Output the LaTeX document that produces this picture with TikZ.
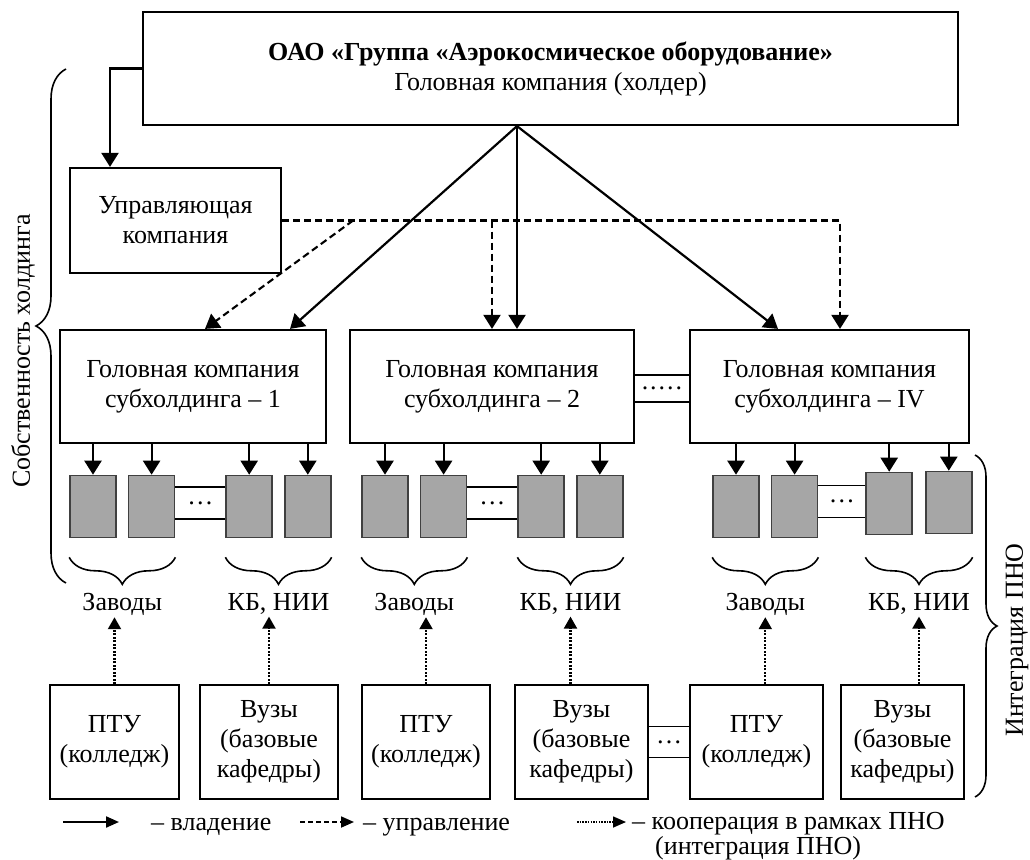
\documentclass[tikz,border=0pt]{standalone}
\usepackage{fontspec}
\setmainfont{Liberation Serif}
\usetikzlibrary{positioning,arrows.meta,calc,decorations.pathreplacing}

\newcommand{\gapdots}{.\hspace{2pt}.\hspace{2pt}.\hspace{2pt}.\hspace{2pt}.}

\begin{document}
\begin{tikzpicture}[x=1pt,y=-1pt,>={Triangle[length=14pt,width=17pt]},
  font=\fontsize{26}{30}\selectfont,
  box/.style={draw,line width=2.2pt,align=center,inner sep=0pt,minimum height=113pt},
  edu/.style={draw,line width=1.8pt,align=center,inner sep=0pt,minimum height=114pt},
  unit/.style={draw=black!75,line width=1.6pt,fill=black!35,minimum width=46pt,
    minimum height=62pt,inner sep=0pt},
  gap/.style={inner sep=0pt},
  lbl/.style={inner sep=1pt},
  own/.style={->,line width=2.2pt},
  ctrl/.style={->,line width=2.1pt,dash pattern=on 7pt off 4pt},
  coop/.style={-{Triangle[length=12pt,width=13pt]},line width=2.2pt,dash pattern=on 2pt off 1.5pt},
  brc/.style={decorate,decoration={brace,mirror,amplitude=27pt},line width=1.6pt},
  bigbrc/.style={decorate,decoration={brace,amplitude=#1},line width=1.6pt},
  legtip/.style={-{Triangle[length=13pt,width=11pt]}}]

  \useasboundingbox (0,0) rectangle (1030,859);

  % holder and management company
  \node[box,minimum width=815pt] (holder) at (550.5,68.5)
    {\textbf{ОАО «Группа «Аэрокосмическое оборудование»}\\Головная компания (холдер)};
  \node[box,minimum width=211pt,minimum height=105pt] (upr) at (175.5,220.5) {Управляющая\\компания};

  % subholdings
  \node[box,minimum width=266pt] (sh1) at (193,386.5) {Головная компания\\субхолдинга – 1};
  \node[box,minimum width=284pt] (sh2) at (492,386.5) {Головная компания\\субхолдинга – 2};
  \node[box,minimum width=279pt] (sh4) at (829.5,386.5) {Головная компания\\субхолдинга – IV};

  \node[gap,minimum height=27pt,yshift=-2pt] (dsh) at ($(sh2.east)!0.5!(sh4.west)$) {\gapdots};
  \draw[line width=1.5pt] (dsh.north -| sh2.east) -- (dsh.north -| sh4.west)
    (dsh.south -| sh2.east) -- (dsh.south -| sh4.west);

  \coordinate (hub) at ([xshift=-33.5pt]holder.south);
  \coordinate (split) at ($(upr.east)+(71,0)$);

  \draw[own] (holder.west) -| ([xshift=-65.5pt]upr.north);
  \path[own]
    (hub) edge ([xshift=97pt]sh1.north)
    (hub) edge ([xshift=25pt]sh2.north)
    (hub) edge ([xshift=-51.5pt]sh4.north);

  \draw[ctrl] (upr.east) -| ([xshift=10.5pt]sh4.north);
  \path[ctrl]
    (upr.east -| sh2.north) edge (sh2.north)
    (split) edge ([xshift=12pt]sh1.north);

  % plants and design bureaus
  \node[unit] (f11) at (93,506.5) {};
  \node[unit] (f12) [right=11pt of f11] {};
  \node[unit] (k11) [right=50pt of f12] {};
  \node[unit] (k12) [right=11pt of k11] {};

  \node[unit] (f21) at (385,506.5) {};
  \node[unit] (f22) [right=11pt of f21] {};
  \node[unit] (k21) [right=50pt of f22] {};
  \node[unit] (k22) [right=11pt of k21] {};

  \node[unit] (f31) at (736,506.5) {};
  \node[unit] (f32) [right=11pt of f31] {};
  \node[unit] (k31) [right=47pt of f32,yshift=3pt] {};
  \node[unit] (k32) [right=12pt of k31,yshift=1pt] {};

  \path[own]
    (f11.north |- sh1.south) edge (f11.north)
    (f12.north |- sh1.south) edge (f12.north)
    (k11.north |- sh1.south) edge (k11.north)
    (k12.north |- sh1.south) edge (k12.north)
    (f21.north |- sh2.south) edge (f21.north)
    (f22.north |- sh2.south) edge (f22.north)
    (k21.north |- sh2.south) edge (k21.north)
    (k22.north |- sh2.south) edge (k22.north)
    (f31.north |- sh4.south) edge (f31.north)
    (f32.north |- sh4.south) edge (f32.north)
    (k31.north |- sh4.south) edge (k31.north)
    (k32.north |- sh4.south) edge (k32.north);

  \node[gap,minimum height=32pt,yshift=3.5pt] (d1) at ($(f12.east)!0.5!(k11.west)$) {\dots};
  \node[gap,minimum height=32pt,yshift=3.5pt] (d2) at ($(f22.east)!0.5!(k21.west)$) {\dots};
  \node[gap,minimum height=32pt,yshift=3.5pt] (d3) at ($(f32.east)!0.5!(k31.west)$) {\dots};
  \draw[line width=1.5pt]
    (d1.north -| f12.east) -- (d1.north -| k11.west) (d1.south -| f12.east) -- (d1.south -| k11.west)
    (d2.north -| f22.east) -- (d2.north -| k21.west) (d2.south -| f22.east) -- (d2.south -| k21.west)
    (d3.north -| f32.east) -- (d3.north -| k31.west) (d3.south -| f32.east) -- (d3.south -| k31.west);

  \draw[brc] ([yshift=-19pt]f11.south west) -- ([yshift=-19pt]f12.south east)
    node[midway,yshift=-47pt,lbl] (pl1) {Заводы};
  \draw[brc] ([yshift=-19pt]k11.south west) -- ([yshift=-19pt]k12.south east)
    node[midway,yshift=-47pt,lbl] (rd1) {КБ, НИИ};
  \draw[brc] ([yshift=-19pt]f21.south west) -- ([yshift=-19pt]f22.south east)
    node[midway,yshift=-47pt,lbl] (pl2) {Заводы};
  \draw[brc] ([yshift=-19pt]k21.south west) -- ([yshift=-19pt]k22.south east)
    node[midway,yshift=-47pt,lbl] (rd2) {КБ, НИИ};
  \draw[brc] ([yshift=-19pt]f31.south west) -- ([yshift=-19pt]f32.south east)
    node[midway,yshift=-47pt,lbl] (pl3) {Заводы};
  \draw[brc] ([yshift=-22pt]k31.south west) -- ([yshift=-22pt]k31.south west -| k32.south east)
    node[midway,yshift=-47pt,lbl] (rd3) {КБ, НИИ};

  % education
  \node[edu,minimum width=129pt] (ptu1) at (114.5,742) {ПТУ\\(колледж)};
  \node[edu,minimum width=138pt] (vuz1) at (269,742) {Вузы\\(базовые\\кафедры)};
  \node[edu,minimum width=128pt] (ptu2) at (426,742) {ПТУ\\(колледж)};
  \node[edu,minimum width=133pt] (vuz2) at (581.5,742) {Вузы\\(базовые\\кафедры)};
  \node[edu,minimum width=133pt] (ptu3) at (756.5,742) {ПТУ\\(колледж)};
  \node[edu,minimum width=123pt] (vuz3) at (902.5,742) {Вузы\\(базовые\\кафедры)};

  \node[gap,minimum height=31pt] (d4) at ($(vuz2.east)!0.5!(ptu3.west)$) {\dots};
  \draw[line width=1.5pt] (d4.north -| vuz2.east) -- (d4.north -| ptu3.west)
    (d4.south -| vuz2.east) -- (d4.south -| ptu3.west);

  \path[coop]
    (ptu1.north) edge (ptu1.north |- pl1.south)
    (vuz1.north) edge (vuz1.north |- rd1.south)
    (ptu2.north) edge (ptu2.north |- pl2.south)
    (rd2.south |- vuz2.north) edge (rd2.south)
    (pl3.south |- ptu3.north) edge (pl3.south)
    (rd3.south |- vuz3.north) edge (rd3.south);

  % side braces
  \draw[bigbrc=30pt] (66,583) -- (66,69);
  \node[rotate=90] (own) at (23,351) {Собственность холдинга};
  \draw[bigbrc=22pt] (975,455) -- (975,797);
  \node[rotate=90] (pno) at (1017,640) {Интеграция ПНО};

  % legend
  \coordinate (aown) at (63,822);
  \node[lbl,anchor=base west] (town) at (150,830) {– владение};
  \draw[legtip,line width=2.2pt,shorten >=31pt] (aown) -- (aown -| town.west);
  \coordinate (actrl) at (300,822);
  \node[lbl,anchor=base west] (tctrl) at (362,830) {– управление};
  \draw[legtip,line width=1.8pt,dash pattern=on 5pt off 3pt,shorten >=8pt]
    (actrl) -- (actrl -| tctrl.west);
  \coordinate (acoop) at (577,822);
  \node[lbl,anchor=north west,align=left,font=\fontsize{26}{20}\selectfont] (tcoop) at (631,811)
    {– кооперация в рамках ПНО\\\hspace*{23pt}(интеграция ПНО)};
  \draw[legtip,line width=1.6pt,dash pattern=on 1.5pt off 1.2pt,shorten >=5pt]
    (acoop) -- (acoop -| tcoop.west);
\end{tikzpicture}
\end{document}
